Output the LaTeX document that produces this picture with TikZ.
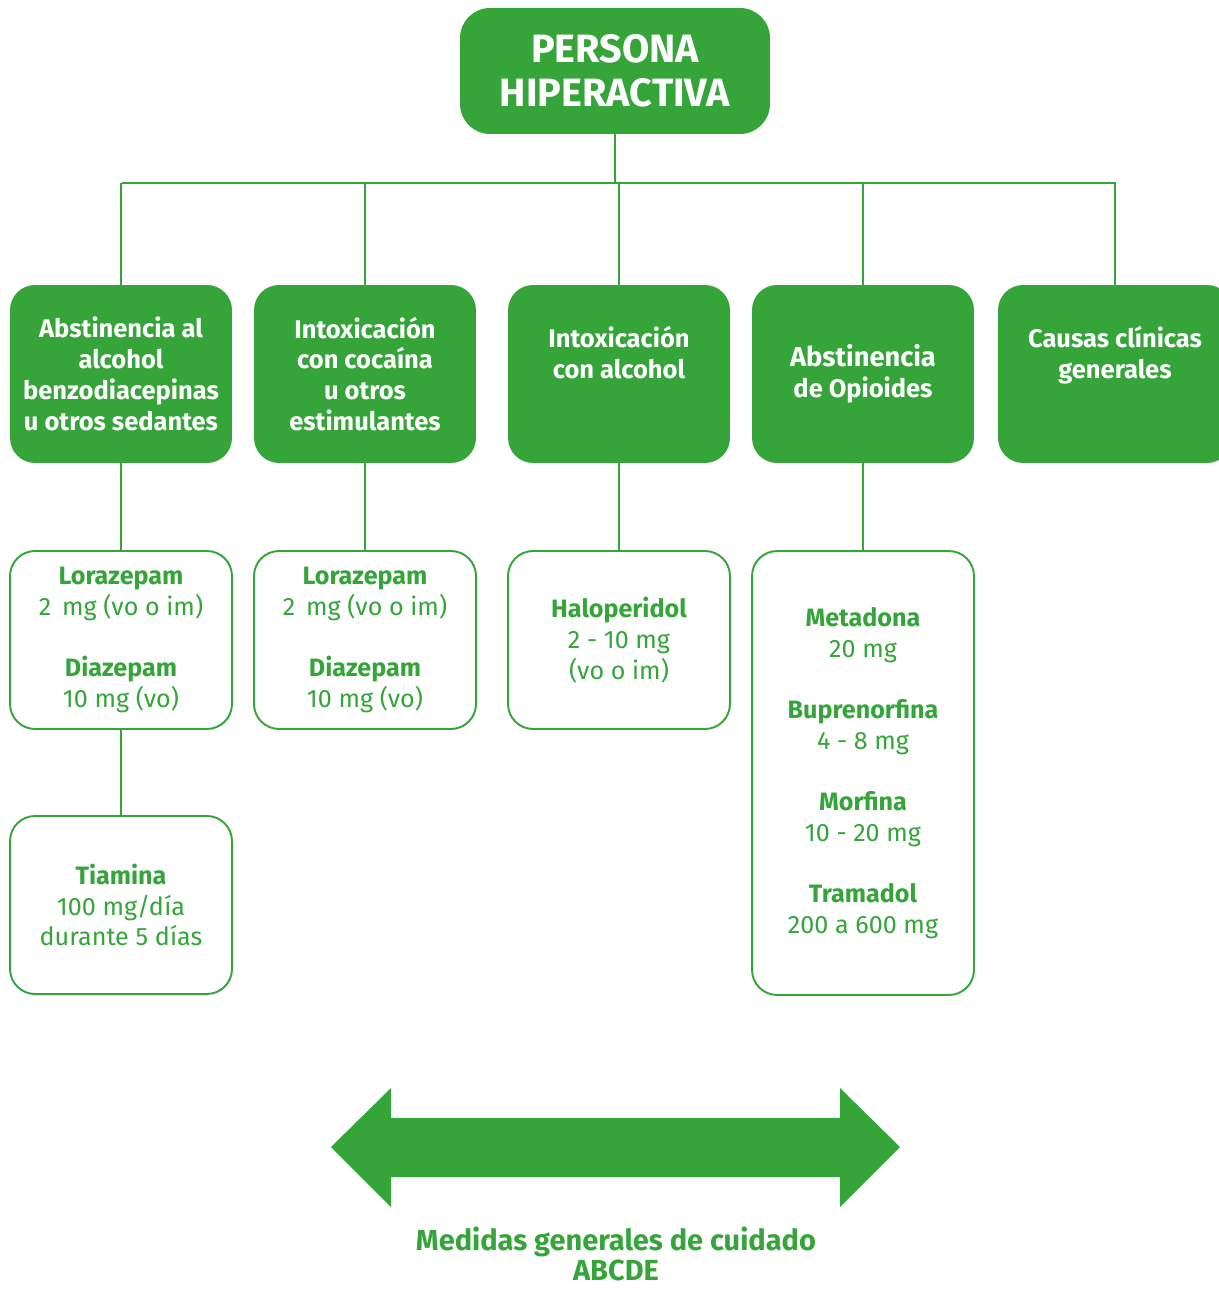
\documentclass[tikz,border=0pt]{standalone}
\usepackage{fontspec}
\setmainfont{Fira Sans}
\usepackage{tikz}
\usetikzlibrary{positioning, calc}
\definecolor{leafgreen}{HTML}{35A53A}

\tikzset{
  catbox/.style={fill=leafgreen, rounded corners=0.5cm, minimum width=4.44cm, minimum height=3.56cm, inner sep=0pt, align=center, text=white, font=\fontsize{14.5}{17.6}\selectfont\bfseries},
  dosebox/.style={draw=leafgreen, line width=1.1pt, fill=white, rounded corners=0.5cm, minimum width=4.44cm, minimum height=3.56cm, inner sep=0pt, align=center, text=leafgreen, font=\fontsize{14.3}{17.6}\selectfont},
  link/.style={draw=leafgreen, line width=1.1pt}
}

\begin{document}
\begin{tikzpicture}[x=0.02cm, y=-0.02cm]
  \useasboundingbox (0,0) rectangle (1218,1293);

  % Root
  \node[catbox, minimum width=6.2cm, minimum height=2.52cm, rounded corners=0.6cm, font=\fontsize{22.5}{25}\selectfont\bfseries] (root) at (615,71) {PERSONA\\HIPERACTIVA};

  % Causes
  \node[catbox] (abst) at (121,374) {Abstinencia al\\alcohol\\benzodiacepinas\\u otros sedantes};
  \node[catbox] (coca) at (365,374) {Intoxicación\\con cocaína\\u otros\\estimulantes};
  \node[catbox] (alco) at (619,374) {Intoxicación\\con alcohol\\[0.25cm]};
  \node[catbox] (opio) at (863,374) {\fontsize{15.5}{21}\selectfont Abstinencia\\de Opioides};
  \node[catbox, minimum width=4.68cm] (caus) at (1115,374) {Causas clínicas\\generales\\[0.25cm]};

  % Treatments
  \node[dosebox] (lora1) at (121,640) {\textbf{Lorazepam}\\2\, mg (vo o im)\\[0.6cm]\textbf{Diazepam}\\10 mg (vo)};
  \node[dosebox] (lora2) at (365,640) {\textbf{Lorazepam}\\2\, mg (vo o im)\\[0.6cm]\textbf{Diazepam}\\10 mg (vo)};
  \node[dosebox] (halo) at (619,640) {\textbf{Haloperidol}\\2 - 10 mg\\(vo o im)};
  \node[dosebox, minimum height=8.88cm] (opdose) at (863,773) {\textbf{Metadona}\\20 mg\\[0.6cm]\textbf{Buprenorfina}\\4 - 8 mg\\[0.6cm]\textbf{Morfina}\\10 - 20 mg\\[0.6cm]\textbf{Tramadol}\\200 a 600 mg};
  \node[dosebox] (tiam) at (121,905) {\textbf{Tiamina}\\100 mg/día\\durante 5 días};

  % Tree lines
  \coordinate (busL) at (122,183);
  \coordinate (busR) at (1116,183);
  \draw[link] (busL) -- (busR);
  \draw[link] (root.south) -- (root.south |- busL);
  \foreach \n in {abst, coca, alco, opio, caus} {
    \draw[link] (\n.north) -- (\n.north |- busL);
  }
  \draw[link] (abst.south) -- (lora1.north);
  \draw[link] (coca.south) -- (lora2.north);
  \draw[link] (alco.south) -- (halo.north);
  \draw[link] (opio.south) -- (opdose.north);
  \draw[link] (lora1.south) -- (tiam.north);

  % Double arrow
  \fill[leafgreen] (331,1147) -- (391,1088) -- (391,1118) -- (840,1118) -- (840,1088) -- (900,1147)
    -- (840,1207) -- (840,1177) -- (391,1177) -- (391,1207) -- cycle;
  \node[text=leafgreen, align=center, inner sep=0pt, font=\fontsize{16.5}{17.6}\selectfont\bfseries] (abcde) at (616,1254) {Medidas generales de cuidado\\ABCDE};
\end{tikzpicture}
\end{document}
